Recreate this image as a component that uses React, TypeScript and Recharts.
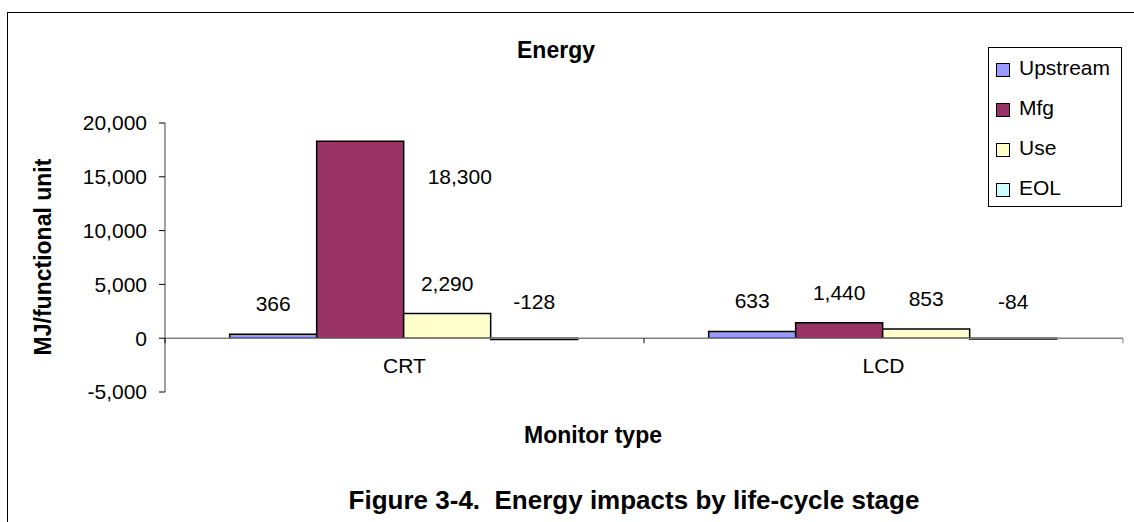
import React from 'react';
import { BarChart, Bar, XAxis, YAxis, ReferenceLine, Legend, LabelList } from 'recharts';

const categories = ['CRT', 'LCD'];
const upstream = [366, 633];
const mfg = [18300, 1440];
const use = [2290, 853];
const eol = [-128, -84];
const yTicks = [-5000, 0, 5000, 10000, 15000, 20000];

const seriesNames = ['Upstream', 'Mfg', 'Use', 'EOL'];
const seriesColors = ['#9999FF', '#993366', '#FFFFCC', '#CCFFFF'];

const data = categories.map((name, i) => ({
    name,
    Upstream: upstream[i],
    Mfg: mfg[i],
    Use: use[i],
    EOL: eol[i],
}));

const FONT = '"Liberation Sans", Arial, sans-serif';
const W = 1134;
const H = 522;
const X_AXIS_H = 30;
const M = { top: 123, right: 11, bottom: 100, left: 85 };
const Y_AXIS_W = 80;
const PLOT_LEFT = M.left + Y_AXIS_W;
const PLOT_RIGHT = W - M.right;
const PLOT_H = H - M.top - M.bottom - X_AXIS_H;
const ZERO_Y = M.top + PLOT_H * (20000 / 25000);
const BAND = (PLOT_RIGHT - PLOT_LEFT) / categories.length;

const fmt = (v: number) => v.toLocaleString('en-US');

function CategoryTick(props: any) {
    const { x, index, payload } = props;
    const left = x - BAND / 2;
    return (
        <g>
            <line x1={left} x2={left} y1={ZERO_Y} y2={ZERO_Y + 5} stroke="#000" />
            {index === categories.length - 1 && (
                <line x1={x + BAND / 2} x2={x + BAND / 2} y1={ZERO_Y} y2={ZERO_Y + 5} stroke="#808080" />
            )}
            <text x={x} y={ZERO_Y + 35} textAnchor="middle" fontSize={21} fontFamily={FONT} fill="#000">
                {payload.value}
            </text>
        </g>
    );
}

function ValueLabel(props: any) {
    const { x, y, width, height, value } = props;
    const top = Math.min(y, y + height);
    let tx = x + width / 2;
    let ty = value >= 0 ? top - 23 : ZERO_Y - 29;
    let anchor: 'middle' | 'start' = 'middle';
    if (value >= 0 && top - 30 < M.top) {
        // no room above the plot: Excel pushed it to the right of the bar
        tx = x + width + 24;
        ty = top + 43;
        anchor = 'start';
    }
    return (
        <text x={tx} y={ty} textAnchor={anchor} fontSize={21} fontFamily={FONT} fill="#000">
            {fmt(value)}
        </text>
    );
}

function LegendBox() {
    return (
        <div style={{ width: 132, height: 158, border: '1px solid #000', background: '#fff', fontFamily: FONT, position: 'relative' }}>
            {seriesNames.map((n, i) => (
                <div key={n} style={{ position: 'absolute', left: 7, top: 8 + i * 40, display: 'flex', alignItems: 'center', height: 24 }}>
                    <span style={{ display: 'inline-block', width: 12, height: 12, background: seriesColors[i], border: '1.5px solid #000', marginRight: 9, marginTop: 4 }} />
                    <span style={{ fontSize: 21, color: '#000' }}>{n}</span>
                </div>
            ))}
        </div>
    );
}

export default function App() {
    return (
        <div style={{ position: 'absolute', left: 0, top: 0, width: W, height: H, overflow: 'hidden', background: '#fff', fontFamily: FONT }}>
            <div style={{ position: 'absolute', left: 7, top: 12, width: W + 20, height: H + 20, border: '1.5px solid #000', boxSizing: 'border-box' }} />
            <BarChart width={W} height={H} data={data} margin={M} barCategoryGap="13.5%" barGap={0}>
                <XAxis dataKey="name" height={X_AXIS_H} axisLine={false} tickLine={false} tick={CategoryTick} interval={0} />
                <YAxis
                    width={Y_AXIS_W}
                    domain={[-5000, 20000]}
                    ticks={yTicks}
                    interval={0}
                    tickFormatter={fmt}
                    axisLine={{ stroke: '#808080', strokeWidth: 1.5 }}
                    tickLine={{ stroke: '#000' }}
                    tickSize={6}
                    tickMargin={12}
                    tick={{ fill: '#000', fontSize: 21, fontFamily: FONT }}
                />
                <ReferenceLine y={0} stroke="#808080" strokeWidth={1.5} />
                {seriesNames.map((n, i) => (
                    <Bar key={n} dataKey={n} fill={seriesColors[i]} stroke="#000" strokeWidth={1.5} isAnimationActive={false}>
                        <LabelList dataKey={n} content={<ValueLabel />} />
                    </Bar>
                ))}
                <Legend
                    layout="vertical"
                    align="center"
                    verticalAlign="middle"
                    content={<LegendBox />}
                    wrapperStyle={{ position: 'absolute', left: 988, top: 47, width: 134, height: 160 }}
                />
            </BarChart>
            <div style={{ position: 'absolute', left: 556, top: 50, transform: 'translate(-50%, -50%)', fontWeight: 'bold', fontSize: 23, whiteSpace: 'nowrap' }}>
                Energy
            </div>
            <div style={{ position: 'absolute', left: 43, top: 257, transform: 'translate(-50%, -50%) rotate(-90deg)', fontWeight: 'bold', fontSize: 23, whiteSpace: 'nowrap' }}>
                MJ/functional unit
            </div>
            <div style={{ position: 'absolute', left: 593, top: 435, transform: 'translate(-50%, -50%)', fontWeight: 'bold', fontSize: 23, whiteSpace: 'nowrap' }}>
                Monitor type
            </div>
            <div style={{ position: 'absolute', left: 634, top: 500, transform: 'translate(-50%, -50%)', fontWeight: 'bold', fontSize: 26, whiteSpace: 'nowrap' }}>
                Figure 3-4.&nbsp; Energy impacts by life-cycle stage
            </div>
        </div>
    );
}
